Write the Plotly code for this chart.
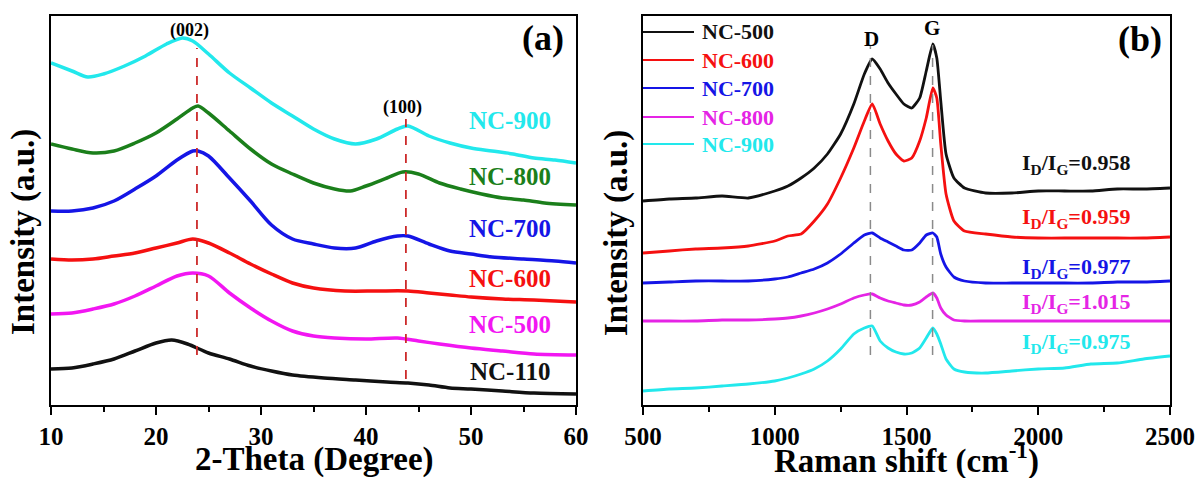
import plotly.graph_objects as go

# ---------------- XRD data (panel a) ----------------
xrd_x_900 = [10, 12, 13.5, 15, 17, 19, 21, 22.5, 23.5, 25, 27, 29, 31, 33, 35, 37, 39, 41, 43, 44, 46, 48, 50, 52, 54, 56, 58, 60]
xrd_y_900 = [342, 334, 328, 331, 339, 349, 361, 367, 364, 351, 332, 317, 302, 289, 276, 266, 261, 266, 276, 279, 269, 262, 257, 254, 251, 247, 245, 242]

xrd_x_800 = [10, 12, 14, 16, 18, 20, 22, 23.5, 24, 25, 27, 29, 31, 33, 35, 37, 38.5, 40, 42, 43.5, 45, 47, 49, 51, 53, 55, 57, 60]
xrd_y_800 = [261, 256, 252, 254, 262, 272, 286, 297, 299, 292, 274, 256, 241, 231, 222, 216, 214, 219, 227, 233, 231, 222, 216, 211, 207, 205, 202, 200]

xrd_x_700 = [10, 12, 14, 16, 18, 20, 22, 23.5, 24, 25, 27, 29, 31, 33, 35, 37, 39, 41, 43, 44, 46, 48, 50, 52, 55, 58, 60]
xrd_y_700 = [194, 194, 197, 204, 216, 229, 245, 254, 254, 249, 227, 204, 180, 166, 161, 157, 157, 164, 169, 169, 161, 154, 151, 148, 146, 144, 142]

xrd_x_600 = [10, 12, 14, 16, 18, 20, 22, 23.5, 25, 27, 29, 31, 33, 35, 38, 41, 44, 46, 48, 50, 53, 56, 60]
xrd_y_600 = [146, 145, 146, 149, 152, 157, 162, 166, 162, 152, 141, 131, 122, 117, 114, 114, 114, 112, 110, 108, 106, 105, 103]

xrd_x_500 = [10, 12, 14, 16, 18, 20, 22, 23.5, 25, 27, 29, 31, 33, 35, 37, 40, 43, 45, 47, 50, 53, 56, 60]
xrd_y_500 = [91, 92, 96, 101, 109, 119, 129, 132, 129, 112, 97, 84, 74, 69, 67, 66, 67, 64, 61, 57, 54, 51, 50]

xrd_x_110 = [10, 12, 14, 16, 18, 20, 21.5, 23, 25, 27, 29, 31, 33, 36, 39, 42, 44, 46, 48, 50, 53, 56, 60]
xrd_y_110 = [36, 37, 41, 46, 54, 62, 65, 61, 52, 46, 39, 34, 30, 27, 25, 23, 22, 20, 17, 16, 14, 12, 11]

xrd_names = ["NC-900", "NC-800", "NC-700", "NC-600", "NC-500", "NC-110"]
xrd_label_y = [284, 229, 177, 127, 81, 34]
xrd_peaks = [23.9, 43.8]
xrd_peak_labels = ["(002)", "(100)"]

# ---------------- Raman data (panel b) ----------------
raman_x = [500, 600, 700, 800, 900, 1000, 1050, 1100, 1150, 1200, 1250, 1300, 1340, 1370, 1400, 1430, 1460, 1490,
           1520, 1550, 1575, 1600, 1615, 1630, 1650, 1680, 1720, 1800, 1900, 2000, 2100, 2200, 2300, 2400, 2500]
raman_500 = [204, 206, 207, 209, 207, 214, 219, 227, 237, 251, 271, 301, 331, 346, 336, 322, 311, 301,
             297, 307, 334, 361, 347, 304, 251, 227, 217, 212, 212, 214, 214, 214, 216, 216, 217]
raman_600 = [152, 154, 156, 157, 159, 164, 169, 171, 184, 201, 227, 257, 284, 301, 281, 264, 251, 244,
             247, 264, 287, 317, 307, 261, 211, 184, 174, 171, 168, 167, 167, 167, 167, 167, 168]
raman_700 = [122, 123, 124, 124, 124, 126, 128, 132, 136, 142, 151, 162, 170, 172, 167, 163, 159, 155,
             155, 162, 170, 172, 168, 151, 138, 128, 124, 122, 122, 122, 122, 122, 123, 123, 124]
raman_800 = [84, 84, 84, 85, 85, 86, 87, 89, 92, 96, 101, 107, 110, 111, 107, 104, 102, 100,
             100, 103, 108, 112, 107, 97, 90, 85, 84, 84, 84, 84, 84, 84, 84, 84, 84]
raman_900 = [14, 16, 17, 19, 21, 24, 27, 31, 36, 44, 56, 71, 77, 79, 64, 57, 53, 51,
             52, 57, 67, 77, 71, 61, 46, 36, 33, 32, 34, 36, 37, 41, 42, 46, 49]

raman_names = ["NC-500", "NC-600", "NC-700", "NC-800", "NC-900"]
ratio_texts = ["0.958", "0.959", "0.977", "1.015", "0.975"]
ratio_y = [241, 187, 137, 102, 62]
raman_peaks = [1363, 1599]
raman_peak_labels = ["D", "G"]

W, H = 1196, 478
FONT = "Liberation Serif, Times New Roman, serif"

def px(xp):
    return xp / W

def py(yp):
    return 1 - yp / H

fig = go.Figure()

xrd_colors = ["#22e8ec", "#1b7f1b", "#1515e6", "#f51010", "#f216f2", "#111111"]
xrd_sets = [(xrd_x_900, xrd_y_900), (xrd_x_800, xrd_y_800), (xrd_x_700, xrd_y_700),
            (xrd_x_600, xrd_y_600), (xrd_x_500, xrd_y_500), (xrd_x_110, xrd_y_110)]
for (xs, ys), c, n in zip(xrd_sets, xrd_colors, xrd_names):
    fig.add_trace(go.Scatter(x=xs, y=ys, mode="lines", name=n, showlegend=False,
                             line=dict(color=c, width=3.5, shape="spline", smoothing=0.8),
                             xaxis="x", yaxis="y"))

raman_colors = ["#111111", "#f51010", "#1515e6", "#e524e5", "#22e8ec"]
raman_sets = [raman_500, raman_600, raman_700, raman_800, raman_900]
for ys, c, n in zip(raman_sets, raman_colors, raman_names):
    fig.add_trace(go.Scatter(x=raman_x, y=ys, mode="lines", name=n, showlegend=False,
                             line=dict(color=c, width=2.8, shape="spline", smoothing=0.5),
                             xaxis="x2", yaxis="y2"))

# dashed peak markers
xrd_peak_span = [(50, 357), (26, 286)]
for xv, (y0, y1) in zip(xrd_peaks, xrd_peak_span):
    fig.add_shape(type="line", xref="x", yref="y", x0=xv, x1=xv, y0=y0, y1=y1,
                  line=dict(color="#cc2a2a", width=1.8, dash="dash"))
for xv in raman_peaks:
    fig.add_shape(type="line", xref="x2", yref="y2", x0=xv, x1=xv, y0=50, y1=360,
                  line=dict(color="#8a8a8a", width=1.5, dash="dash"))

ann = []

def add_text(x, y, text, size, color="black", xref="paper", yref="paper", xanchor="center", angle=0):
    ann.append(dict(x=x, y=y, xref=xref, yref=yref, text=text, showarrow=False,
                    xanchor=xanchor, yanchor="middle", textangle=angle,
                    font=dict(family=FONT, size=size, color=color, weight="bold")))

for n, c, yv in zip(xrd_names, xrd_colors, xrd_label_y):
    add_text(57.8, yv, n, 25, c, xref="x", yref="y", xanchor="right")
add_text(xrd_peaks[0] - 0.7, 374, xrd_peak_labels[0], 18, xref="x", yref="y")
add_text(xrd_peaks[1] - 0.3, 297, xrd_peak_labels[1], 18, xref="x", yref="y")
add_text(px(543), py(38), "(a)", 36)
add_text(px(1140), py(39), "(b)", 36)
add_text(raman_peaks[0] + 5, 366, raman_peak_labels[0], 21, xref="x2", yref="y2")
add_text(raman_peaks[1] - 3, 377, raman_peak_labels[1], 21, xref="x2", yref="y2")
for t, c, yv in zip(ratio_texts, raman_colors, ratio_y):
    add_text(1930, yv, "I<sub>D</sub>/I<sub>G</sub>=" + t, 22, c, xref="x2", yref="y2", xanchor="left")
leg_rows = [32, 60, 88, 117, 144]
for n, c, yr in zip(raman_names, raman_colors, leg_rows):
    fig.add_shape(type="line", xref="paper", yref="paper", x0=px(643), x1=px(694), y0=py(yr), y1=py(yr),
                  line=dict(color=c, width=2))
    add_text(px(700), py(yr), n, 22, c, xanchor="left")
add_text(px(314), py(459), "2-Theta (Degree)", 33)
add_text(px(906), py(458), "Raman shift (cm<sup>-1</sup>)", 33)
add_text(px(24), py(232), "Intensity (a.u.)", 33, angle=-90)
add_text(px(616), py(233), "Intensity (a.u.)", 33, angle=-90)

axis_common = dict(showline=True, linecolor="black", linewidth=2, mirror=True, showgrid=False,
                   zeroline=False, automargin=False)
tickfont = dict(family=FONT, size=25, color="black", weight="bold")

fig.update_layout(
    width=W, height=H, margin=dict(l=0, r=0, t=0, b=0, autoexpand=False),
    paper_bgcolor="white", plot_bgcolor="white",
    annotations=ann,
    xaxis=dict(domain=[px(51), px(576)], range=[10, 60], tickvals=[10, 20, 30, 40, 50, 60],
               ticks="outside", ticklen=8, tickwidth=2, tickcolor="black", tickfont=tickfont,
               ticklabelstandoff=0,
               minor=dict(ticks="outside", ticklen=5, tickwidth=2, tickcolor="black", dtick=5, tick0=10),
               anchor="y", **axis_common),
    yaxis=dict(domain=[py(405), py(16)], range=[0, 389], showticklabels=False, ticks="",
               anchor="x", **axis_common),
    xaxis2=dict(domain=[px(643), px(1170)], range=[500, 2500], tickvals=[500, 1000, 1500, 2000, 2500],
                ticks="outside", ticklen=8, tickwidth=2, tickcolor="black", tickfont=tickfont,
                ticklabelstandoff=0,
                minor=dict(ticks="outside", ticklen=5, tickwidth=2, tickcolor="black", dtick=250, tick0=500),
                anchor="y2", **axis_common),
    yaxis2=dict(domain=[py(405), py(16)], range=[0, 389], showticklabels=False, ticks="",
                anchor="x2", **axis_common),
)

fig.write_html("out.html")
